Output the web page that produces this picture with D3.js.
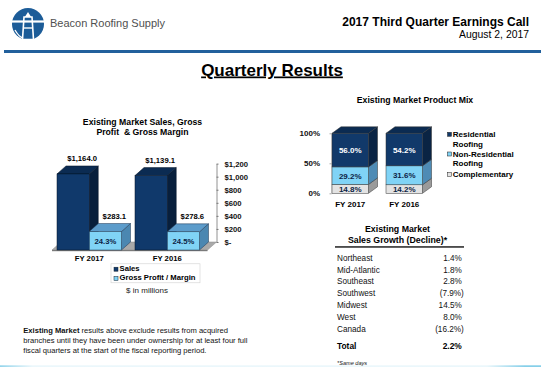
<!DOCTYPE html>
<html><head><meta charset="utf-8">
<script src="https://cdn.jsdelivr.net/npm/d3@7"></script>
<style>
body{margin:0;background:#fff;}
svg{display:block;font-family:"Liberation Sans",Arial,Helvetica,sans-serif;}
</style></head><body>
<svg id="c" width="547" height="367"></svg>
<script>
// ---------------- data ----------------
const categories = ["FY 2017", "FY 2016"];
const sales = [1164.0, 1139.1];
const grossProfit = [283.1, 278.6];
const grossMargin = [24.3, 24.5];
const salesTicks = [0, 200, 400, 600, 800, 1000, 1200];
const salesSeries = ["Sales", "Gross Profit / Margin"];

const mixCategories = ["FY 2017", "FY 2016"];
const residential = [56.0, 54.2];
const nonResidential = [29.2, 31.6];
const complementary = [14.8, 14.2];
const mixTicks = [0, 50, 100];
const mixSeries = ["Residential Roofing", "Non-Residential Roofing", "Complementary"];

const regions = ["Northeast", "Mid-Atlantic", "Southeast", "Southwest", "Midwest", "West", "Canada"];
const regionGrowth = [1.4, 1.8, 2.8, -7.9, 14.5, 8.0, -16.2];
const totalLabel = "Total";
const totalGrowth = 2.2;

const footnoteLines = [
  ["Existing Market", " results above exclude results from acquired"],
  ["", "branches until they have been under ownership for at least four full"],
  ["", "fiscal quarters at the start of the fiscal reporting period."]
];

// ---------------- setup ----------------
const svg = d3.select("#c");
const FONT = '"Liberation Sans",Arial,Helvetica,sans-serif';

function box(g, x, y, w, h, dx, dy, c, drawTop, stroke) {
  g.append("path")
    .attr("d", `M${x+w},${y} L${x+w+dx},${y+dy} L${x+w+dx},${y+h+dy} L${x+w},${y+h} Z`)
    .attr("fill", c.side).attr("stroke", stroke).attr("stroke-width", 0.5);
  if (drawTop) {
    g.append("path")
      .attr("d", `M${x},${y} L${x+dx},${y+dy} L${x+w+dx},${y+dy} L${x+w},${y} Z`)
      .attr("fill", c.top).attr("stroke", stroke).attr("stroke-width", 0.5);
  }
  g.append("rect").attr("x", x).attr("y", y).attr("width", w).attr("height", h)
    .attr("fill", c.front).attr("stroke", stroke).attr("stroke-width", 0.5);
}

// ---------------- header ----------------
const logo = svg.append("g").attr("transform", "translate(28,24)");
logo.append("circle").attr("r", 16).attr("fill", "#1c5c98");
logo.append("path").attr("d", "M-16,-2.5 L16,-2.5").attr("stroke", "#fff").attr("stroke-width", 2.2);
logo.append("path").attr("d", "M-4,-7 L4,-7 L5.5,15.5 L-5.5,15.5 Z")
  .attr("fill", "none").attr("stroke", "#fff").attr("stroke-width", 1.6);
logo.append("path").attr("d", "M-3.2,-7 L0,-12 L3.2,-7 Z").attr("fill", "#fff");
logo.append("path").attr("d", "M-5,4 L5,4").attr("stroke", "#fff").attr("stroke-width", 1.4);
logo.append("path").attr("d", "M-13,6 Q-9,13 -5,14").attr("fill", "none").attr("stroke", "#fff").attr("stroke-width", 1.3);

svg.append("text").attr("x", 50).attr("y", 27).attr("font-size", 11)
  .attr("fill", "#505050").text("Beacon Roofing Supply");

svg.append("text").attr("x", 529).attr("y", 25.5).attr("text-anchor", "end")
  .attr("font-size", 12).attr("font-weight", "bold").attr("fill", "#000")
  .text("2017 Third Quarter Earnings Call");
svg.append("text").attr("x", 529).attr("y", 38).attr("text-anchor", "end")
  .attr("font-size", 10.4).attr("fill", "#000").text("August 2, 2017");

svg.append("rect").attr("x", 4).attr("y", 50).attr("width", 537).attr("height", 3).attr("fill", "#22609c");

svg.append("text").attr("x", 272).attr("y", 75.5).attr("text-anchor", "middle")
  .attr("font-size", 17).attr("font-weight", "bold").attr("fill", "#000")
  .attr("text-decoration", "underline").text("Quarterly Results");

// ---------------- left chart: sales / gross profit ----------------
const L = svg.append("g");
const dxL = 9, dyL = -8;
const yL = d3.scaleLinear().domain([0, 1200]).range([250, 171.6]);
const yLBack = d3.scaleLinear().domain([0, 1200]).range([250 + dyL, 171.6 + dyL]);
const x0 = d3.scaleBand().domain(categories).range([57, 199.5]).paddingInner(0.173);
const x1 = d3.scaleBand().domain(salesSeries).range([0, x0.bandwidth()]);

L.selectAll("text.title").data(["Existing Market Sales, Gross", "Profit  & Gross Margin"]).join("text")
  .attr("x", 142.5).attr("y", (d, i) => 125 + i * 10.3).attr("text-anchor", "middle")
  .attr("font-size", 8.7).attr("font-weight", "bold").attr("xml:space", "preserve")
  .style("white-space", "pre").text(d => d);

// floor
const fl = x0.range()[0] - 5, fr = x0.range()[1] + 8;
L.append("path")
  .attr("d", `M${fl},${yL(0)} L${fr},${yL(0)} L${fr+dxL},${yL(0)+dyL} L${fl+dxL},${yL(0)+dyL} Z`)
  .attr("fill", "#a9a9a9").attr("stroke", "#8a8a8a").attr("stroke-width", 0.5);
L.append("rect").attr("x", fl).attr("y", yL(0)).attr("width", fr - fl).attr("height", 1.2).attr("fill", "#7a7a7a");

// axis on the right (back plane)
const axL = L.append("g").attr("transform", `translate(${fr + dxL},0)`)
  .call(d3.axisRight(yLBack).tickValues(salesTicks).tickSizeInner(2).tickSizeOuter(0).tickPadding(6)
    .tickFormat(d => d === 0 ? "$-" : d3.format("$,")(d)));
axL.select(".domain").attr("stroke", "#777").attr("stroke-width", 0.8);
axL.selectAll(".tick line").attr("stroke", "#777");
axL.selectAll(".tick text").attr("font-family", FONT).attr("font-size", 7.7)
  .attr("font-weight", "bold").attr("fill", "#111");

const darkBar = { front: "#10396b", side: "#081f3c", top: "#0b2b52" };
const lightBar = { front: "#80d3f6", side: "#4b87b1", top: "#5c9ccb" };

categories.forEach((cat, i) => {
  const g = L.append("g");
  const gx = x0(cat);
  const xs = gx + x1(salesSeries[0]), xg = gx + x1(salesSeries[1]);
  const w = x1.bandwidth();
  box(g, xs, yL(sales[i]), w, yL(0) - yL(sales[i]), dxL, dyL, darkBar, true, "#061427");
  box(g, xg, yL(grossProfit[i]), w, yL(0) - yL(grossProfit[i]), dxL, dyL, lightBar, true, "#1e3550");
  g.append("text").attr("x", xs + w / 2 + dxL).attr("y", yL(sales[i]) + dyL - 5)
    .attr("text-anchor", "middle").attr("font-size", 7.7).attr("font-weight", "bold")
    .text(d3.format("$,.1f")(sales[i]));
  g.append("text").attr("x", xg + w / 2 + dxL).attr("y", yL(grossProfit[i]) + dyL - 4.3)
    .attr("text-anchor", "middle").attr("font-size", 7.7).attr("font-weight", "bold")
    .text(d3.format("$,.1f")(grossProfit[i]));
  g.append("text").attr("x", xg + w / 2).attr("y", (yL(grossProfit[i]) + yL(0)) / 2 + 3)
    .attr("text-anchor", "middle").attr("font-size", 7.7).attr("font-weight", "bold").attr("fill", "#0d2345")
    .text(grossMargin[i].toFixed(1) + "%");
  g.append("text").attr("x", gx + x0.bandwidth() / 2).attr("y", 260.7)
    .attr("text-anchor", "middle").attr("font-size", 7.7).attr("font-weight", "bold")
    .text(cat);
});

// legend
const lg = L.append("g");
lg.append("rect").attr("x", 111).attr("y", 263.8).attr("width", 89).attr("height", 19)
  .attr("fill", "#fff").attr("stroke", "#d0d0d0").attr("stroke-width", 0.6);
salesSeries.forEach((s, i) => {
  const c = i === 0 ? darkBar.front : lightBar.front;
  lg.append("rect").attr("x", 114).attr("y", 267.2 + i * 9.3).attr("width", 4).attr("height", 4)
    .attr("fill", c).attr("stroke", "#102030").attr("stroke-width", 0.5);
  lg.append("text").attr("x", 119.5).attr("y", 270.8 + i * 9.3).attr("font-size", 7.7)
    .attr("font-weight", "bold").text(s);
});
L.append("text").attr("x", 147).attr("y", 292.6).attr("text-anchor", "middle")
  .attr("font-size", 8).attr("fill", "#222").text("$ in millions");

// footnote
const fn = svg.append("g");
footnoteLines.forEach((ln, i) => {
  const t = fn.append("text").attr("x", 23.3).attr("y", 333.3 + i * 10)
    .attr("font-size", 7.6).attr("fill", "#111").attr("xml:space", "preserve");
  if (ln[0]) t.append("tspan").attr("font-weight", "bold").text(ln[0]);
  t.append("tspan").text(ln[1]);
});

// ---------------- right chart: product mix ----------------
const R = svg.append("g");
const dxR = 9, dyR = -6.5;
const yR = d3.scaleLinear().domain([0, 100]).range([193.3, 133.3]);
const xR = d3.scaleBand().domain(mixCategories).range([332, 422.5]).paddingInner(0.324);

R.append("text").attr("x", 415).attr("y", 103.3).attr("text-anchor", "middle")
  .attr("font-size", 8.7).attr("font-weight", "bold").text("Existing Market Product Mix");

const axR = R.append("g").attr("transform", "translate(331.5,0)")
  .call(d3.axisLeft(yR).tickValues(mixTicks).tickSizeInner(2).tickSizeOuter(0).tickPadding(9.5)
    .tickFormat(d => d + "%"));
axR.select(".domain").attr("stroke", "#aaa").attr("stroke-width", 0.7);
axR.selectAll(".tick line").attr("stroke", "#aaa");
axR.selectAll(".tick text").attr("font-family", FONT).attr("font-size", 8)
  .attr("font-weight", "bold").attr("fill", "#111");

const mixRows = mixCategories.map((c, i) => ({
  cat: c,
  [mixSeries[2]]: complementary[i],
  [mixSeries[1]]: nonResidential[i],
  [mixSeries[0]]: residential[i]
}));
const stack = d3.stack().keys([mixSeries[2], mixSeries[1], mixSeries[0]]);
const stacked = stack(mixRows);
const mixColors = {
  [mixSeries[0]]: { front: "#11396a", side: "#0a2444", top: "#0b2b52", text: "#ffffff" },
  [mixSeries[1]]: { front: "#80d3f6", side: "#4e8bb5", top: "#5c9ccb", text: "#0d2345" },
  [mixSeries[2]]: { front: "#e3e3e3", side: "#9a9a9a", top: "#c8c8c8", text: "#0d2345" }
};
stacked.forEach((layer, li) => {
  const c = mixColors[layer.key];
  layer.forEach((d, i) => {
    const g = R.append("g");
    const x = xR(d.data.cat), w = xR.bandwidth();
    const y0 = yR(d[0]), y1 = yR(d[1]);
    box(g, x, y1, w, y0 - y1, dxR, dyR, c, li === stacked.length - 1, "#333");
    g.append("text").attr("x", x + w / 2).attr("y", (y0 + y1) / 2 + 3)
      .attr("text-anchor", "middle").attr("font-size", 8).attr("font-weight", "bold")
      .attr("fill", c.text).text((d[1] - d[0]).toFixed(1) + "%");
  });
});
mixCategories.forEach(c => {
  R.append("text").attr("x", xR(c) + xR.bandwidth() / 2).attr("y", 206.5)
    .attr("text-anchor", "middle").attr("font-size", 8).attr("font-weight", "bold").text(c);
});

// right legend
const legendLines = [
  { key: mixSeries[0], lines: ["Residential", "Roofing"], y: 134.3 },
  { key: mixSeries[1], lines: ["Non-Residential", "Roofing"], y: 154 },
  { key: mixSeries[2], lines: ["Complementary"], y: 174.3 }
];
legendLines.forEach(l => {
  R.append("rect").attr("x", 447.5).attr("y", l.y - 2).attr("width", 4).attr("height", 4)
    .attr("fill", mixColors[l.key].front).attr("stroke", "#222").attr("stroke-width", 0.5);
  l.lines.forEach((t, j) => {
    R.append("text").attr("x", 452.8).attr("y", l.y + 3 + j * 9.3).attr("font-size", 8)
      .attr("font-weight", "bold").text(t);
  });
});

// ---------------- table ----------------
const T = svg.append("g");
T.selectAll("text.th").data(["Existing Market", "Sales Growth (Decline)*"]).join("text")
  .attr("x", 397.5).attr("y", (d, i) => 231.8 + i * 11.2).attr("text-anchor", "middle")
  .attr("font-size", 8.8).attr("font-weight", "bold").text(d => d);
T.append("rect").attr("x", 335).attr("y", 246.3).attr("width", 129).attr("height", 1.3).attr("fill", "#000");

const fmtGrowth = v => v < 0 ? "(" + Math.abs(v).toFixed(1) + "%)" : v.toFixed(1) + "%";
regions.forEach((r, i) => {
  const y = 260.6 + i * 11.9;
  T.append("text").attr("x", 337).attr("y", y).attr("font-size", 8.2).attr("fill", "#111").text(r);
  T.append("text").attr("x", regionGrowth[i] < 0 ? 463.8 : 461.8).attr("y", y)
    .attr("text-anchor", "end").attr("font-size", 8.2).attr("fill", "#111").text(fmtGrowth(regionGrowth[i]));
});
T.append("text").attr("x", 337).attr("y", 348.8).attr("font-size", 8.4).attr("font-weight", "bold").text(totalLabel);
T.append("text").attr("x", 461.8).attr("y", 348.8).attr("text-anchor", "end").attr("font-size", 8.4)
  .attr("font-weight", "bold").text(fmtGrowth(totalGrowth));
T.append("text").attr("x", 337).attr("y", 364.5).attr("font-size", 5.6).attr("font-style", "italic")
  .attr("fill", "#222").text("*Same days");

// bottom faint rule
const grad = svg.append("defs").append("linearGradient").attr("id", "bg").attr("x1", "0").attr("x2", "1");
[[0, 0.8], [0.06, 0.15], [0.9, 0.15], [0.97, 0.9], [1, 0.9]].forEach(s =>
  grad.append("stop").attr("offset", s[0]).attr("stop-color", "#3fb3dc").attr("stop-opacity", s[1]));
svg.append("rect").attr("x", 0).attr("y", 365.5).attr("width", 541).attr("height", 1.2).attr("fill", "url(#bg)");
</script>
</body></html>
